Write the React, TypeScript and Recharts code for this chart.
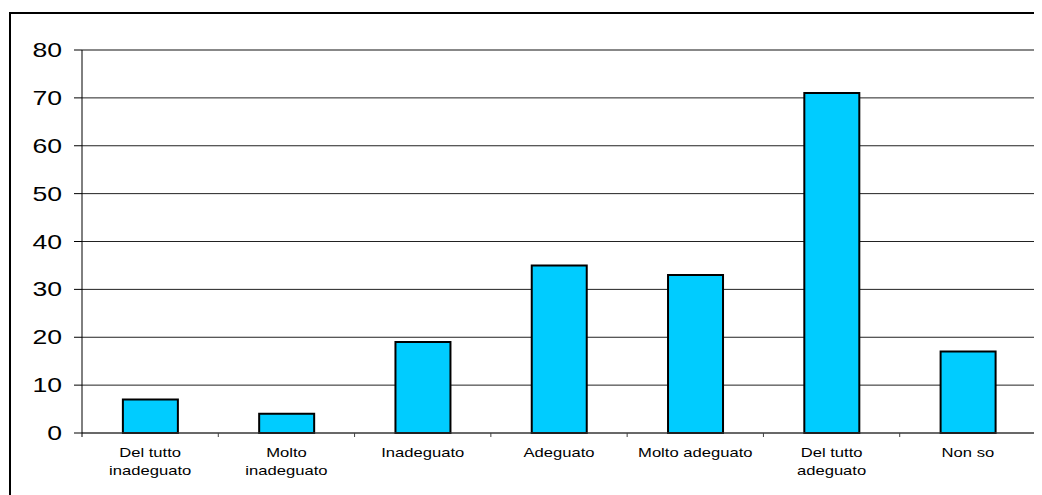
import { BarChart, Bar, XAxis, YAxis, CartesianGrid, ReferenceLine } from 'recharts'

const categories = [
  'Del tutto\ninadeguato',
  'Molto\ninadeguato',
  'Inadeguato',
  'Adeguato',
  'Molto adeguato',
  'Del tutto\nadeguato',
  'Non so',
]
const values = [7, 4, 19, 35, 33, 71, 17]
const yTicks = [0, 10, 20, 30, 40, 50, 60, 70, 80]

const chartData = categories.map((name, i) => ({ name, value: values[i] }))

const W = 1034
const H = 487
const YAXIS_W = 74
const RIGHT = 5
const BAND = (W - YAXIS_W - RIGHT - 1) / categories.length

const font = '"Liberation Sans", Arial, sans-serif'

// recharts hands the text anchor x (axis x minus tickSize 6)
const YTick = ({ x, y, payload }: { x: number; y: number; payload: { value: number } }) => (
  <g>
    <line x1={x - 2} x2={x + 6} y1={y} y2={y} stroke="#000" />
    <text
      x={0}
      y={0}
      textAnchor="end"
      fontSize={20}
      fontFamily={font}
      fill="#000"
      transform={`translate(${x - 14}, ${y + 7}) scale(1.33, 1)`}
    >
      {payload.value}
    </text>
  </g>
)

const XTick = ({ x, y, payload, index }: { x: number; y: number; payload: { value: string }; index: number }) => {
  const lines = String(payload.value).split('\n')
  return (
    <g>
      {index === 0 && <line x1={x - BAND / 2} x2={x - BAND / 2} y1={y - 6} y2={y - 2} stroke="#000" />}
      <line x1={x + BAND / 2} x2={x + BAND / 2} y1={y - 6} y2={y - 2} stroke="#404040" />
      {lines.map((l, i) => (
        <text
          key={i}
          x={0}
          y={0}
          textAnchor="middle"
          fontSize={12.5}
          fontFamily={font}
          fill="#000"
          transform={`translate(${x}, ${y + 18 + i * 18}) scale(1.33, 1)`}
        >
          {l}
        </text>
      ))}
    </g>
  )
}

export default function App() {
  return (
    <div style={{ position: 'relative', width: W, height: H, overflow: 'hidden', background: '#fff' }}>
      <div
        style={{
          position: 'absolute',
          left: 1,
          top: 4,
          width: 1200,
          height: 700,
          border: '2px solid #000',
        }}
      />
      <div style={{ position: 'absolute', left: 0, top: 0 }}>
        <BarChart
          width={W}
          height={H}
          data={chartData}
          margin={{ top: 42, right: RIGHT, left: 0, bottom: 0 }}
          barCategoryGap="30%"
        >
          <CartesianGrid vertical={false} stroke="#222" strokeWidth={1} />
          <ReferenceLine y={80} stroke="#888" strokeWidth={2} />
          <XAxis
            dataKey="name"
            height={62}
            interval={0}
            tickLine={false}
            axisLine={{ stroke: '#404040' }}
            tick={XTick}
            tickMargin={0}
          />
          <YAxis
            domain={[0, 80]}
            ticks={yTicks}
            width={YAXIS_W}
            interval={0}
            tickLine={false}
            axisLine={{ stroke: '#000' }}
            tick={YTick}
            tickMargin={0}
          />
          <YAxis
            yAxisId="r"
            orientation="right"
            width={1}
            tick={false}
            tickLine={false}
            axisLine={{ stroke: '#888', strokeWidth: 2 }}
          />
          <Bar dataKey="value" fill="#00CCFF" stroke="#000" strokeWidth={2} isAnimationActive={false} />
        </BarChart>
      </div>
    </div>
  )
}
